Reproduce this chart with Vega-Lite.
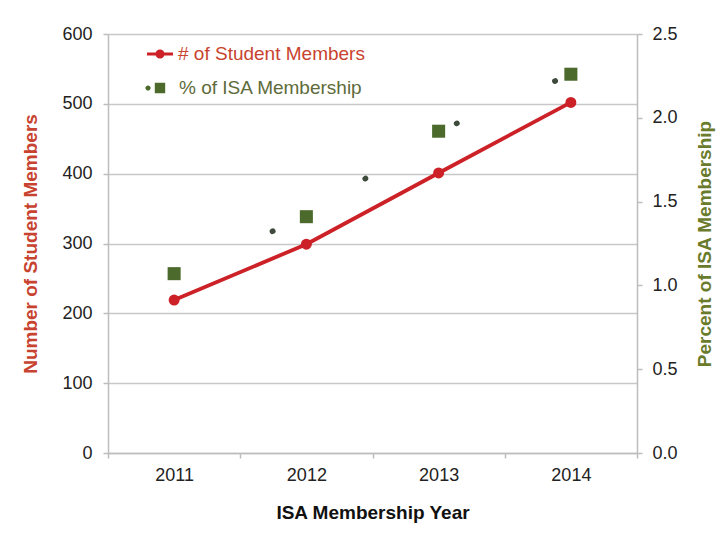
{
  "$schema": "https://vega.github.io/schema/vega-lite/v6.json",
  "width": 529,
  "height": 419,
  "autosize": {"type": "none"},
  "padding": {"left": 108, "top": 34, "right": 86, "bottom": 80},
  "background": "white",
  "config": {"font": "Liberation Sans", "view": {"stroke": null}},
  "data": {
    "values": [
      {"year": "2011", "students": 219, "pct": 1.07},
      {"year": "2012", "students": 299, "pct": 1.41},
      {"year": "2013", "students": 401, "pct": 1.92},
      {"year": "2014", "students": 502, "pct": 2.26}
    ]
  },
  "encoding": {
    "x": {
      "field": "year",
      "type": "ordinal",
      "scale": {"paddingInner": 0, "paddingOuter": 0},
      "axis": {
        "title": "ISA Membership Year",
        "labelAngle": 0,
        "tickBand": "extent",
        "tickSize": 5,
        "tickColor": "#bdbdbd",
        "tickWidth": 1.5,
        "domainColor": "#bdbdbd",
        "domainWidth": 1.5,
        "labelFontSize": 18,
        "labelColor": "#222222",
        "labelPadding": 8,
        "titleFontSize": 19,
        "titleFontWeight": "bold",
        "titleColor": "#111111",
        "titlePadding": 19
      }
    }
  },
  "layer": [
    {
      "layer": [
        {
          "mark": {"type": "line", "color": "#cc2127", "strokeWidth": 3.8},
          "encoding": {
            "y": {
              "field": "students",
              "type": "quantitative",
              "scale": {"domain": [0, 600], "nice": false},
              "axis": {
                "orient": "left",
                "title": "Number of Student Members",
                "values": [0, 100, 200, 300, 400, 500, 600],
                "grid": true,
                "gridColor": "#c8c8c8",
                "gridWidth": 1.5,
                "domainColor": "#bdbdbd",
                "domainWidth": 1.5,
                "tickColor": "#bdbdbd",
                "tickWidth": 1.5,
                "tickSize": 5,
                "labelFontSize": 18,
                "labelColor": "#222222",
                "labelPadding": 11,
                "titleFontSize": 19,
                "titleFontWeight": "bold",
                "titleColor": "#c8432f",
                "titlePadding": 21
              }
            }
          }
        },
        {
          "mark": {"type": "circle", "size": 120, "opacity": 1},
          "encoding": {
            "y": {"field": "students", "type": "quantitative"},
            "color": {
              "datum": "# of Student Members",
              "type": "nominal",
              "scale": {"range": ["#cc2127"]},
              "legend": {
                "orient": "none",
                "legendX": 39,
                "legendY": 7,
                "title": null,
                "padding": 0,
                "labelFontSize": 19,
                "labelFont": "Liberation Sans",
                "labelLimit": 400,
                "labelColor": "#c8432f",
                "symbolType": "M-1,-0.12H1V0.12H-1Z M0.35,0A0.35,0.35 0 1,1 -0.35,0A0.35,0.35 0 1,1 0.35,0Z",
                "symbolSize": 676,
                "symbolStrokeWidth": 0,
                "symbolOpacity": 1,
                "labelOffset": 5
              }
            }
          }
        }
      ]
    },
    {
      "layer": [
        {
          "mark": {"type": "line", "color": "#3e4a3c", "strokeWidth": 5.5, "strokeCap": "round", "strokeDash": [0.5, 106.5]},
          "encoding": {
            "y": {
              "field": "pct",
              "type": "quantitative",
              "scale": {"domain": [0, 2.5], "nice": false},
              "axis": {
                "orient": "right",
                "title": "Percent of ISA Membership",
                "values": [0, 0.5, 1, 1.5, 2, 2.5],
                "format": ".1f",
                "grid": false,
                "domainColor": "#bdbdbd",
                "domainWidth": 1.5,
                "tickColor": "#bdbdbd",
                "tickWidth": 1.5,
                "tickSize": 5,
                "labelFontSize": 18,
                "labelColor": "#222222",
                "labelPadding": 10,
                "titleFontSize": 19,
                "titleFontWeight": "bold",
                "titleColor": "#6b7b2c",
                "titleAngle": 270,
                "titleBaseline": "top",
                "titlePadding": 18
              }
            }
          }
        },
        {
          "mark": {"type": "square", "size": 170, "opacity": 1},
          "encoding": {
            "y": {"field": "pct", "type": "quantitative"},
            "fill": {
              "datum": "% of ISA Membership",
              "type": "nominal",
              "scale": {"range": ["#4c6a2c"]},
              "legend": {
                "orient": "none",
                "legendX": 39,
                "legendY": 41,
                "title": null,
                "padding": 0,
                "labelFontSize": 19,
                "labelFont": "Liberation Sans",
                "labelLimit": 400,
                "labelColor": "#5e6b3a",
                "symbolType": "M-0.72,0A0.2,0.2 0 1,1 -1.12,0A0.2,0.2 0 1,1 -0.72,0Z M-0.4,-0.4H0.4V0.4H-0.4Z",
                "symbolSize": 676,
                "symbolStrokeWidth": 0,
                "symbolOpacity": 1,
                "labelOffset": 6
              }
            }
          }
        }
      ]
    }
  ],
  "resolve": {"scale": {"y": "independent"}}
}
